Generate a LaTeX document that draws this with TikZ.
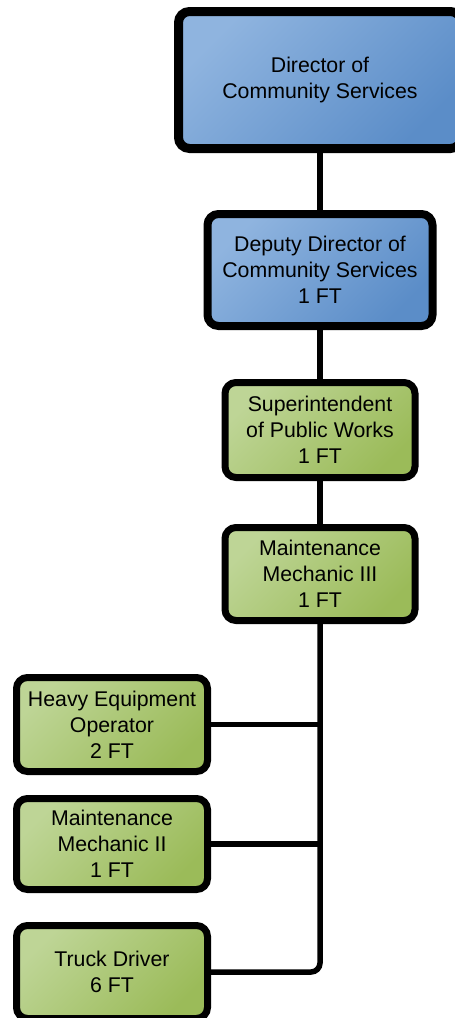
\documentclass[tikz,border=0pt]{standalone}
\usepackage{fontspec}
\setmainfont{Liberation Sans}
\definecolor{bluelight}{HTML}{8FB4DF}
\definecolor{bluedark}{HTML}{5B8DC8}
\definecolor{greenlight}{HTML}{BED596}
\definecolor{greendark}{HTML}{9BBB59}
\tikzset{
  box/.style={draw=black, rounded corners=11pt, align=center, inner sep=0pt,
    font=\fontsize{21.3}{26}\selectfont},
  bluebox/.style={box, top color=bluelight, bottom color=bluedark, shading angle=45},
  greenbox/.style={box, line width=7pt, top color=greenlight, bottom color=greendark, shading angle=45},
  link/.style={line width=5.5pt, draw=black}
}
\begin{document}
\begin{tikzpicture}[x=1pt,y=-1pt]
\clip (0,0) rectangle (455,1018);
\useasboundingbox (0,0) rectangle (455,1018);
\node[bluebox, line width=9pt, minimum width=283pt, minimum height=137pt] (dir) at (320,80) {Director of\\Community Services};
\node[bluebox, line width=8pt, minimum width=225pt, minimum height=112pt] (dep) at (320,270) {Deputy Director of\\Community Services\\1 FT};
\node[greenbox, minimum width=190pt, minimum height=95pt] (sup) at (320,430) {Superintendent\\of Public Works\\1 FT};
\node[greenbox, minimum width=190pt, minimum height=93pt] (mm3) at (320,574) {Maintenance\\Mechanic III\\1 FT};
\node[greenbox, minimum width=191pt, minimum height=94pt] (heo) at (112,724.5) {Heavy Equipment\\Operator\\2 FT};
\node[greenbox, minimum width=191pt, minimum height=91pt] (mm2) at (112,844) {Maintenance\\Mechanic II\\1 FT};
\node[greenbox, minimum width=191pt, minimum height=93pt] (trk) at (112,972) {Truck Driver\\6 FT};
\draw[link] (dir.south) -- (dep.north);
\draw[link] (dep.south) -- (sup.north);
\draw[link] (sup.south) -- (mm3.north);
\draw[link, rounded corners=9pt] (mm3.south) |- (trk.east);
\draw[link] (heo.east) -- (heo.east -| mm3.south);
\draw[link] (mm2.east) -- (mm2.east -| mm3.south);
\end{tikzpicture}
\end{document}
